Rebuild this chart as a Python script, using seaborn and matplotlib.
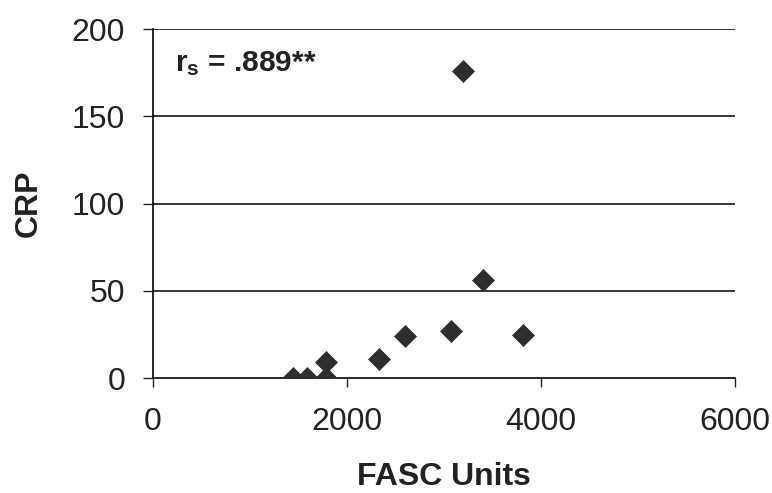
import matplotlib
matplotlib.use("Agg")
import matplotlib.pyplot as plt
import seaborn as sns
import pandas as pd

fasc_units = [1440, 1590, 1780, 1780, 2330, 2600, 3070, 3200, 3400, 3820]
crp = [0, 0, 0, 9, 11, 24, 27, 176, 56, 25]
x_ticks = [0, 2000, 4000, 6000]
y_ticks = [0, 50, 100, 150, 200]

sns.set_theme(style="white")
plt.rcParams['font.family'] = ['Liberation Sans', 'DejaVu Sans']
plt.rcParams['mathtext.fontset'] = 'custom'
plt.rcParams['mathtext.rm'] = 'Liberation Sans:bold'
plt.rcParams['mathtext.bf'] = 'Liberation Sans:bold'

df = pd.DataFrame({"FASC Units": fasc_units, "CRP": crp})

fig = plt.figure(figsize=(7.72, 4.93), dpi=100)
ax = fig.add_axes([0.198, 0.233, 0.754, 0.708])

for yv in y_ticks[1:]:
    ax.axhline(yv, color="black", lw=1.1, zorder=1)

sns.scatterplot(data=df, x="FASC Units", y="CRP", marker="D", s=125,
                color="#2e2e2e", edgecolor="#2e2e2e", linewidth=0.5, ax=ax, zorder=3)

ax.set_xlim(0, 6000)
ax.set_ylim(0, 200)
ax.set_xticks(x_ticks)
ax.set_yticks(y_ticks)
ax.tick_params(axis="both", labelsize=23, colors="#222222", width=1)
ax.tick_params(axis="x", direction="out", length=6.5, pad=14)
ax.tick_params(axis="y", direction="out", length=7, pad=13)
ax.yaxis.set_ticks_position("left")
ax.xaxis.set_ticks_position("bottom")

for s in ["top", "right"]:
    ax.spines[s].set_visible(False)
for s in ["left", "bottom"]:
    ax.spines[s].set_color("black")
    ax.spines[s].set_linewidth(1.2)

ax.set_xlabel("FASC Units", fontsize=23, fontweight="bold", color="#222222", labelpad=18)
ax.set_ylabel("CRP", fontsize=23, fontweight="bold", color="#222222", labelpad=20)

ax.text(227, 176, r"$\mathregular{r_s}$ = .889**",
        fontsize=21.5, fontweight="bold", color="#222222", va="baseline", ha="left")

fig.savefig("out.png", dpi=100, facecolor="white")
